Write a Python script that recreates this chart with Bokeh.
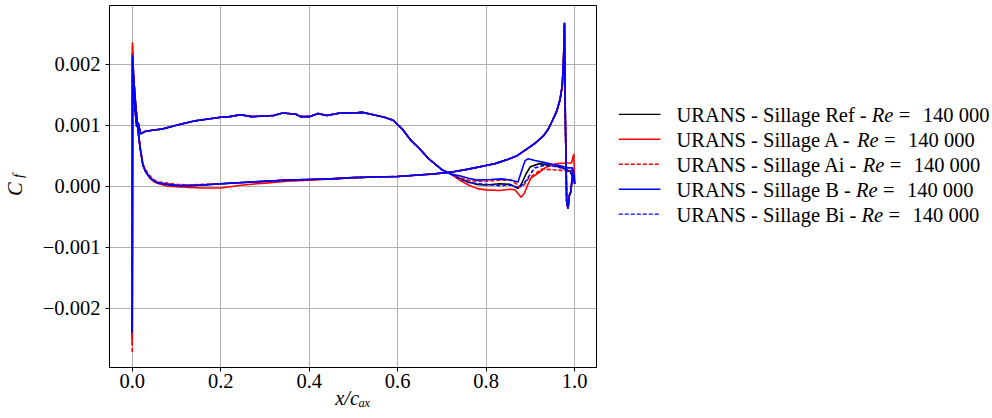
import math
from bokeh.plotting import figure
from bokeh.models import Range1d, FixedTicker, ColumnDataSource
from bokeh.layouts import row
from bokeh.core.properties import value
from bokeh.embed import file_html
from bokeh.resources import INLINE

# ---------------- data ----------------
cases = ["Ref", "A", "Ai", "B", "Bi"]
colors = ["#000000", "#ff0000", "#ff0000", "#0000ff", "#0000ff"]
dashes = ["solid", "solid", "4 2", "solid", "4 2"]
reynolds = "140 000"

# surface 1 (near-zero Cf, strong peak near trailing edge), trailing edge -> leading edge
ps_x = [1.0, 0.997, 0.994, 0.991, 0.988, 0.985, 0.982, 0.979, 0.977, 0.975, 0.972, 0.967,
        0.96, 0.95, 0.94, 0.93, 0.91, 0.89, 0.87, 0.85, 0.82, 0.80, 0.76, 0.72, 0.68, 0.64,
        0.60, 0.55, 0.50, 0.45, 0.40, 0.35, 0.30, 0.25, 0.20, 0.16, 0.13, 0.10, 0.08, 0.06,
        0.05, 0.04, 0.03, 0.024, 0.018, 0.012, 0.007, 0.003]
ps_cf = [0.00004, 0.00027, 0.0001, -0.0001, -0.00015, -0.00037, -0.00025, 0.0011, 0.00268,
         0.0021, 0.00165, 0.00142, 0.00124, 0.00108, 0.00093, 0.00083, 0.0007, 0.0006, 0.0005,
         0.00044, 0.00037, 0.00034, 0.00028, 0.00023, 0.0002, 0.00018, 0.00016, 0.00015,
         0.00014, 0.00012, 0.00011, 0.0001, 0.00008, 0.00006, 0.00004, 0.00002, 0.00001,
         0.00001, 0.00003, 0.00005, 0.00008, 0.00014, 0.00024, 0.00035, 0.00062, 0.00098,
         0.0014, 0.0018]
ps_cf_A = [0.00004, 0.00027, 0.0001, -0.0001, -0.00015, -0.00037, -0.00025, 0.0011, 0.00265,
           0.0021, 0.00165, 0.00142, 0.00124, 0.00108, 0.00093, 0.00083, 0.0007, 0.0006, 0.0005,
           0.00044, 0.00037, 0.00034, 0.00028, 0.00023, 0.0002, 0.00018, 0.00016, 0.00015,
           0.00014, 0.00012, 0.0001, 0.00008, 0.00005, 0.00002, -0.00003, -0.00003, -0.00002,
           -0.00001, 0.0, 0.00004, 0.00007, 0.00013, 0.00024, 0.00035, 0.00062, 0.00098,
           0.0014, 0.0018]
ps_cf_Ai = [0.00004, 0.00027, 0.0001, -0.0001, -0.00015, -0.00037, -0.00025, 0.0011, 0.00265,
            0.0021, 0.00165, 0.00142, 0.00124, 0.00108, 0.00093, 0.00083, 0.0007, 0.0006, 0.0005,
            0.00044, 0.00037, 0.00034, 0.00028, 0.00023, 0.0002, 0.00018, 0.00016, 0.00015,
            0.00014, 0.00012, 0.00011, 0.0001, 0.00008, 0.00006, 0.00004, 0.00003, 0.00002,
            0.00003, 0.00005, 0.00007, 0.0001, 0.00017, 0.00027, 0.00037, 0.00064, 0.001,
            0.0014, 0.0018]

# leading-edge stagnation spike (max, min)
le_top = [0.0022, 0.0023, 0.00236, 0.00215, 0.0021]
le_bottom = [-0.0025, -0.0026, -0.00273, -0.0024, -0.0024]

# surface 2 (plateau ~0.001), leading edge -> 0.72 (common to all cases)
ss_x = [0.002, 0.006, 0.010, 0.013, 0.019, 0.03, 0.05, 0.07, 0.10, 0.14, 0.18, 0.20, 0.22,
        0.245, 0.27, 0.30, 0.32, 0.34, 0.37, 0.38, 0.40, 0.42, 0.44, 0.47, 0.50, 0.52, 0.54,
        0.57, 0.59, 0.61, 0.63, 0.65, 0.67, 0.70, 0.72]
ss_cf = [0.0017, 0.0013, 0.00098, 0.00105, 0.00086, 0.0009, 0.00092, 0.00094, 0.001, 0.00107,
         0.00111, 0.00113, 0.00114, 0.00117, 0.00114, 0.00115, 0.00116, 0.0012, 0.00118,
         0.00114, 0.00114, 0.00119, 0.00116, 0.0012, 0.0012, 0.00121, 0.00118, 0.00113,
         0.00108, 0.00094, 0.00075, 0.00061, 0.00045, 0.00027, 0.0002]

# surface 2, separation region 0.74 -> 1.0, per case
tail_x_Ref = [0.74, 0.76, 0.78, 0.80, 0.83, 0.855, 0.872, 0.88, 0.89, 0.90, 0.92, 0.95, 0.97, 0.99, 1.0]
tail_cf_Ref = [0.00013, 0.00007, 0.00003, 0.00002, 0.00004, 0.00003, -0.00004, 0.00004, 0.0002,
               0.00032, 0.00037, 0.00034, 0.00031, 0.00024, 0.00008]
tail_x_A = [0.74, 0.76, 0.78, 0.80, 0.83, 0.855, 0.865, 0.872, 0.879, 0.886, 0.895, 0.902, 0.915,
            0.935, 0.96, 0.98, 0.993, 0.998, 1.0]
tail_cf_A = [0.0001, 0.00002, -0.00004, -0.00006, -0.00007, -0.00005, -0.00006, -0.00012, -0.00018,
             -0.00012, 0.00004, 0.00014, 0.0002, 0.00031, 0.00037, 0.00038, 0.00038, 0.00053, 0.0001]
tail_x_Ai = [0.74, 0.76, 0.78, 0.80, 0.83, 0.855, 0.868, 0.875, 0.885, 0.895, 0.91, 0.925, 0.95,
             0.97, 0.99, 0.996, 1.0]
tail_cf_Ai = [0.00014, 0.0001, 0.00008, 0.00008, 0.0001, 0.0001, 0.00004, -0.00002, 0.00002,
              0.00012, 0.0002, 0.00028, 0.00027, 0.00026, 0.00023, 0.0003, 0.00005]
tail_x_B = [0.74, 0.76, 0.78, 0.81, 0.835, 0.855, 0.872, 0.88, 0.888, 0.895, 0.91, 0.93, 0.95,
            0.97, 0.985, 0.995, 1.0]
tail_cf_B = [0.00017, 0.00013, 0.0001, 0.00011, 0.00012, 0.0001, 0.00007, 0.00025, 0.00042,
             0.00045, 0.00042, 0.00039, 0.00036, 0.00033, 0.0003, 0.0003, 0.0001]
tail_x_Bi = [0.74, 0.76, 0.78, 0.80, 0.83, 0.855, 0.872, 0.88, 0.89, 0.90, 0.91, 0.93, 0.95,
             0.97, 0.99, 1.0]
tail_cf_Bi = [0.00012, 0.00006, 0.00004, 0.00003, 0.00001, 0.00002, -0.00002, 0.00001, 0.00009,
              0.0002, 0.0003, 0.00034, 0.00033, 0.0003, 0.00025, 0.00008]

ps_by_case = [ps_cf, ps_cf_A, ps_cf_Ai, ps_cf, ps_cf]
tails = [(tail_x_Ref, tail_cf_Ref), (tail_x_A, tail_cf_A), (tail_x_Ai, tail_cf_Ai),
         (tail_x_B, tail_cf_B), (tail_x_Bi, tail_cf_Bi)]

x_ticks = [0.0, 0.2, 0.4, 0.6, 0.8, 1.0]
y_ticks = [-0.002, -0.001, 0.0, 0.001, 0.002]
y_tick_labels = ["\u22120.002", "\u22120.001", "0.000", "0.001", "0.002"]
x_label = "x/c\u2090\u2093"

FONT = "Liberation Serif"
FS = "20.5px"
FS_SUB = "14.5px"
H = 418
LW = 1.6


def blank_fig(w, h, xr, yr):
    f = figure(width=w, height=h, x_range=xr, y_range=yr, output_backend="svg",
               toolbar_location=None, min_border=0, x_axis_type=None, y_axis_type=None)
    f.grid.visible = False
    f.outline_line_color = None
    f.background_fill_color = "white"
    f.border_fill_color = "white"
    return f


# ---------------- main figure ----------------
p = figure(width=570, height=H,
           x_range=Range1d(-0.0514, 1.0494), y_range=Range1d(-0.002972, 0.002962),
           output_backend="svg", toolbar_location=None,
           min_border_left=79, min_border_right=4, min_border_top=5, min_border_bottom=51)
p.background_fill_color = "white"
p.border_fill_color = "white"
p.outline_line_color = "black"
p.outline_line_width = 1

for i, name in enumerate(cases):
    tx, tc = tails[i]
    xs = list(ps_x) + [0.0005, 0.0, 0.0008] + list(ss_x) + list(tx)
    ys = list(ps_by_case[i]) + [le_top[i], le_bottom[i], 0.0016] + list(ss_cf) + list(tc)
    p.line(xs, ys, line_color=colors[i], line_width=LW, line_dash=dashes[i])

p.xaxis.ticker = FixedTicker(ticks=x_ticks)
p.xaxis.major_label_overrides = {t: f"{t:.1f}" for t in x_ticks}
p.yaxis.ticker = FixedTicker(ticks=y_ticks)
p.yaxis.major_label_overrides = {t: l for t, l in zip(y_ticks, y_tick_labels)}
for ax in (p.xaxis[0], p.yaxis[0]):
    ax.major_label_text_font = FONT
    ax.major_label_text_font_size = FS
    ax.major_label_text_color = "black"
    ax.major_tick_in = 0
    ax.major_tick_out = 4
    ax.minor_tick_in = 0
    ax.minor_tick_out = 0
    ax.axis_line_color = "black"
    ax.major_tick_line_color = "black"
p.yaxis.major_label_standoff = 5
p.xaxis.major_label_standoff = 2
p.xaxis.axis_label = x_label
p.xaxis.axis_label_text_font = FONT
p.xaxis.axis_label_text_font_style = "italic"
p.xaxis.axis_label_text_font_size = FS
p.xaxis.axis_label_text_color = "black"
p.xaxis.axis_label_standoff = -4
p.grid.grid_line_color = "#b0b0b0"
p.grid.grid_line_width = 1

# ---------------- y axis label strip: C_f ----------------
yl = blank_fig(30, H, Range1d(0, 30), Range1d(0, H))
yl.text(x=[14], y=[H - 212], text=["C"], angle=math.pi / 2, text_font=value(FONT),
        text_font_style="italic", text_font_size=value(FS), text_baseline="middle",
        text_align="center", text_color="black")
yl.text(x=[17], y=[H - 197], text=["f"], angle=math.pi / 2, text_font=value(FONT),
        text_font_style="italic", text_font_size=value(FS_SUB), text_baseline="middle",
        text_align="center", text_color="black")

# ---------------- legend ----------------
TIMES_W = {'U': 722, 'R': 667, 'A': 722, 'N': 722, 'S': 556, ' ': 250, '-': 333, 'i': 278,
           'l': 278, 'a': 444, 'g': 500, 'e': 444, 'f': 333, 'B': 667}


def text_w(s, size):
    return sum(TIMES_W[c] for c in s) / 1000.0 * size


leg = blank_fig(392, H, Range1d(0, 392), Range1d(H, 0))

row0, row_step = 125.7, 28.8
line_x0, line_x1, text_x = 18.3, 60, 76
fs_num = 20.5
t1x, t1y, t1 = [], [], []
t2x, t2y = [], []
t3x, t3y, t3 = [], [], []
for i, name in enumerate(cases):
    yy = row0 + i * row_step
    leg.line([line_x0, line_x1], [yy, yy], line_color=colors[i], line_width=1.4,
             line_dash=dashes[i])
    prefix = f"URANS - Sillage {name} - "
    t1x.append(text_x)
    t1y.append(yy + 1)
    t1.append(prefix.rstrip())
    rx = text_x + text_w(prefix, fs_num)
    t2x.append(rx)
    t2y.append(yy + 1)
    t3x.append(rx + 27)
    t3y.append(yy + 1)
    t3.append("=")
    t3x.append(rx + 51)
    t3y.append(yy + 1)
    t3.append(reynolds)

common = dict(text_font=value(FONT), text_font_size=value(FS), text_baseline="middle",
              text_align="left", text_color="black")
leg.text(x="x", y="y", text="t", source=ColumnDataSource(dict(x=t1x, y=t1y, t=t1)), **common)
leg.text(x="x", y="y", text="t",
         source=ColumnDataSource(dict(x=t2x, y=t2y, t=["Re"] * len(t2x))),
         text_font_style="italic", **common)
leg.text(x="x", y="y", text="t", source=ColumnDataSource(dict(x=t3x, y=t3y, t=t3)), **common)

layout = row(yl, p, leg)
open("out.html", "w").write(file_html(layout, INLINE))
